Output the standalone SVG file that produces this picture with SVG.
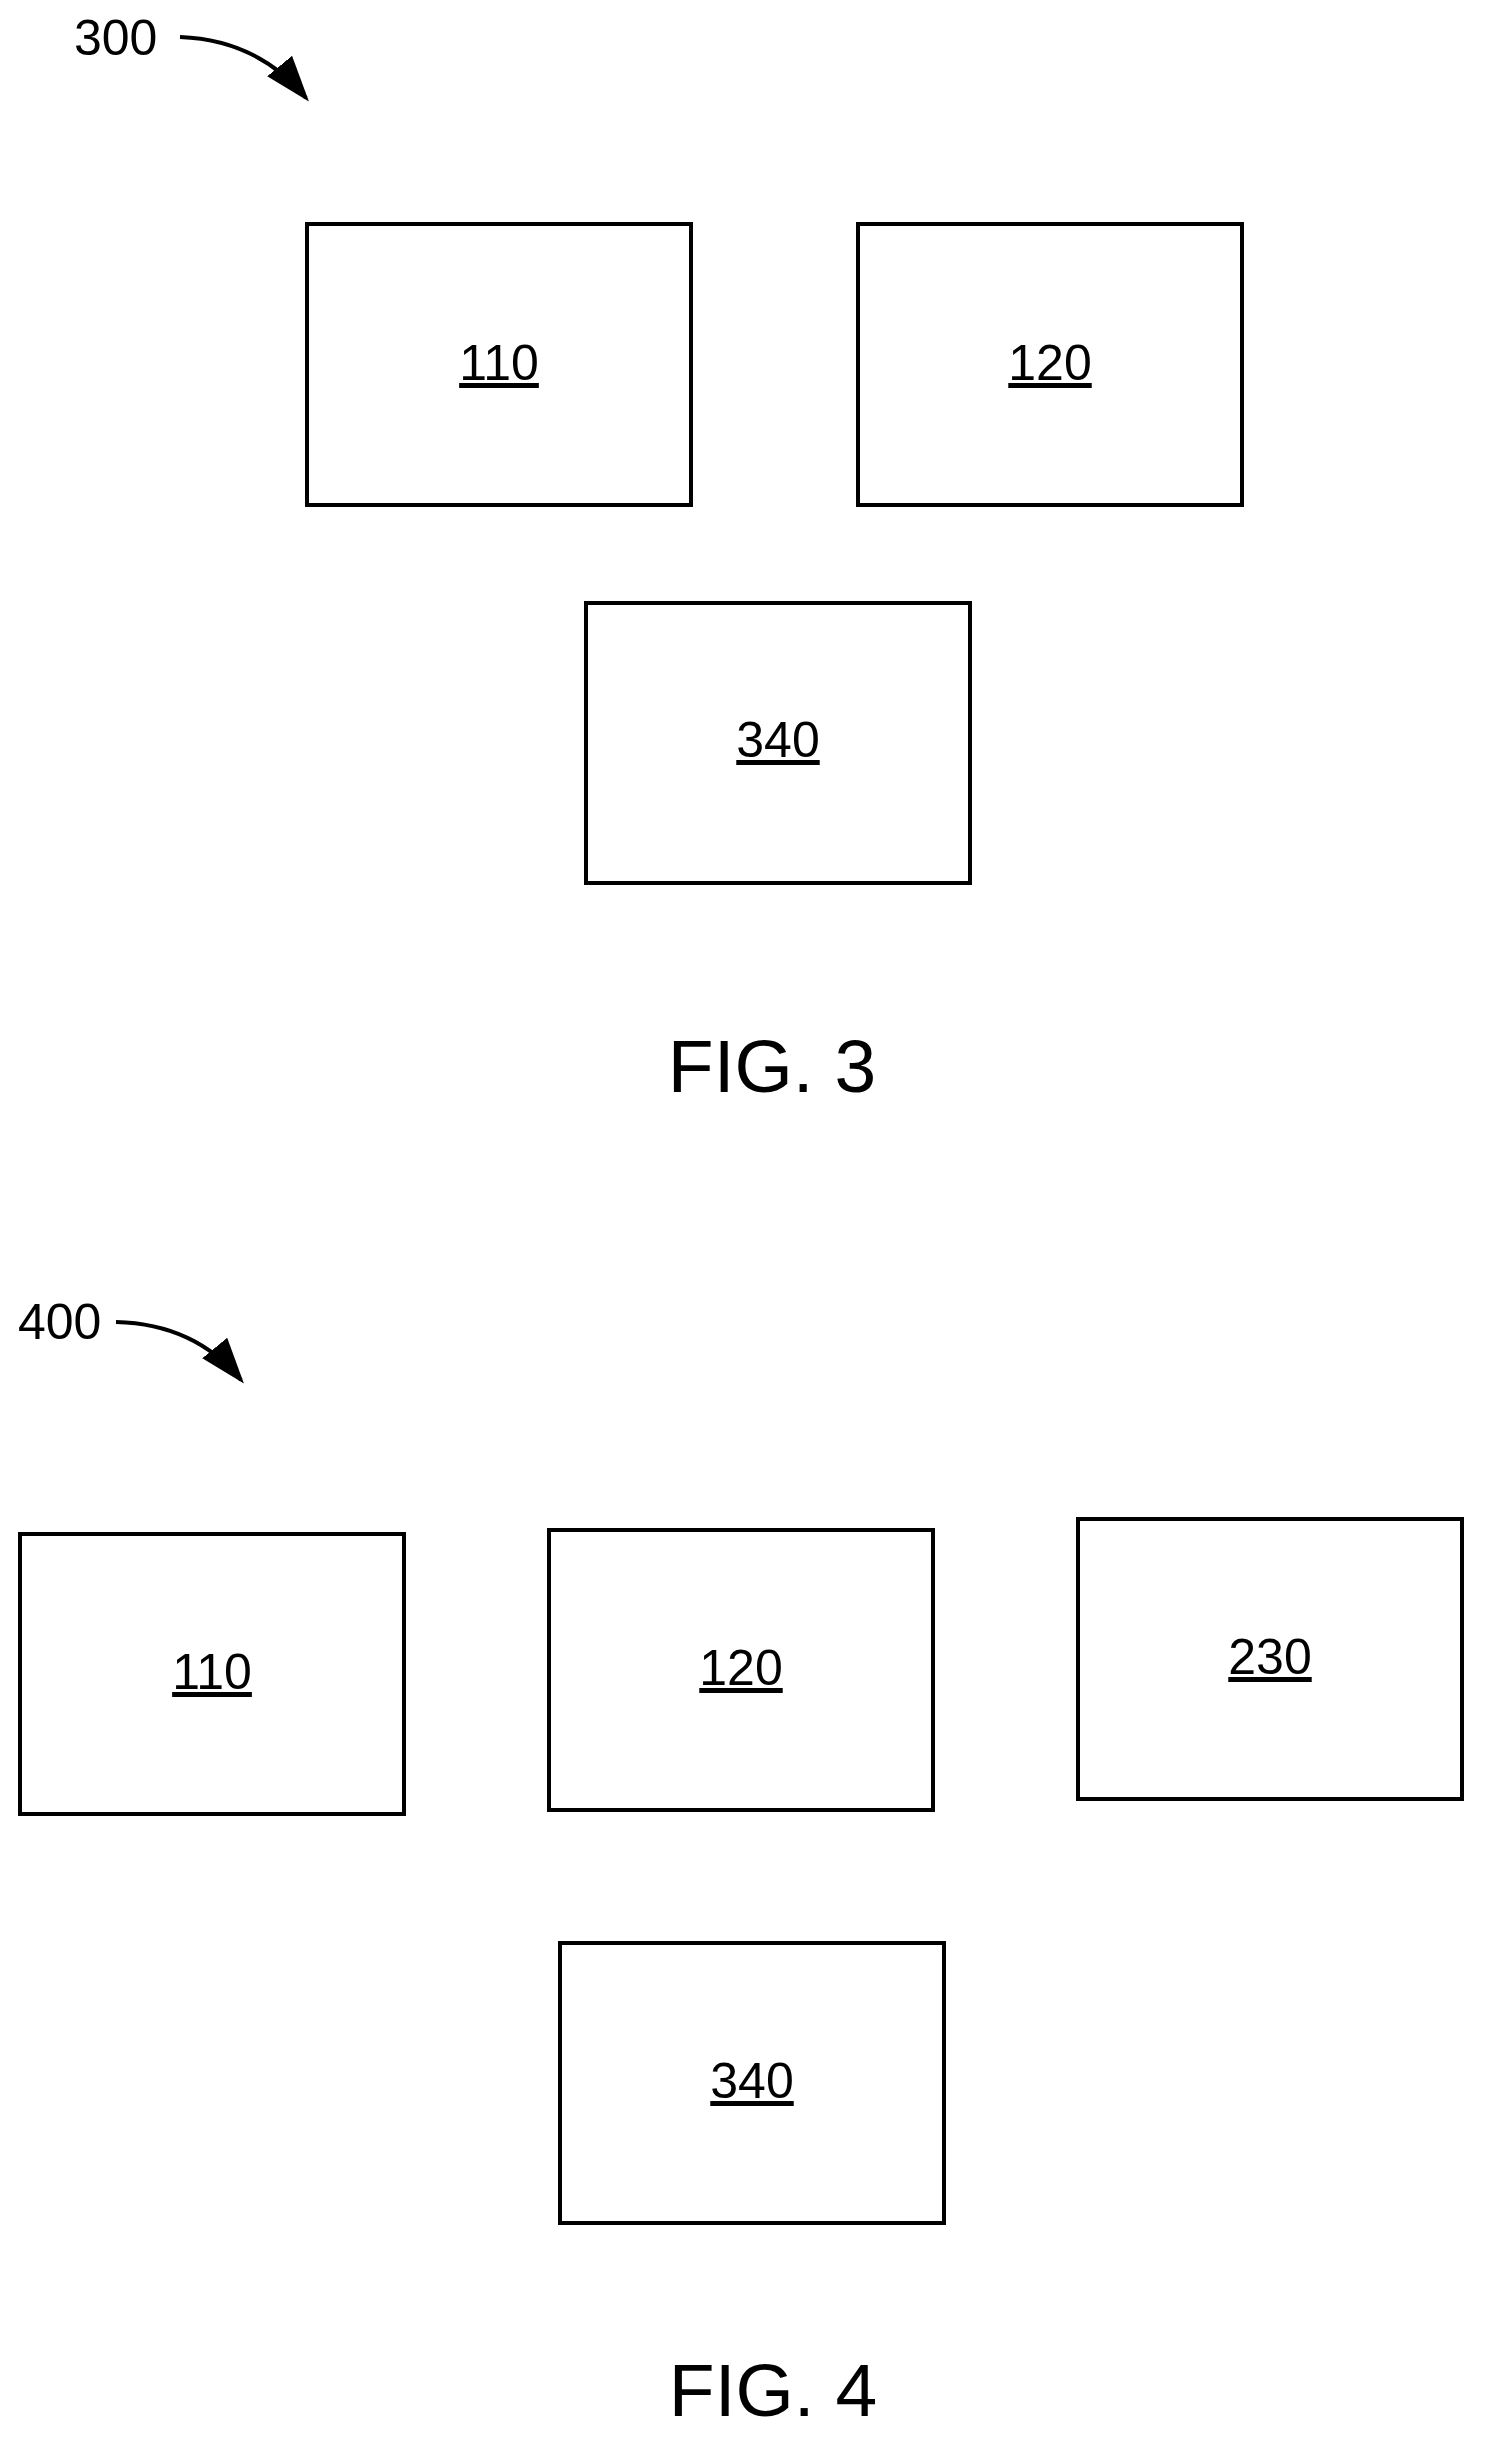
<svg xmlns="http://www.w3.org/2000/svg" width="1486" height="2443" viewBox="0 0 1486 2443">
<style>
.b{fill:#fff;stroke:#000;stroke-width:4}
.t{font-family:"Liberation Sans",Arial,sans-serif;font-size:50px;text-anchor:middle;text-decoration:underline;fill:#000}
.r{font-family:"Liberation Sans",Arial,sans-serif;font-size:50px;fill:#000}
.f{font-family:"Liberation Sans",Arial,sans-serif;font-size:75px;text-anchor:middle;fill:#000}
.c{fill:none;stroke:#000;stroke-width:4}
</style>
<defs>
<marker id="ah" viewBox="0 0 10 10" refX="9" refY="5" markerWidth="46" markerHeight="46" markerUnits="userSpaceOnUse" orient="auto"><path d="M0,1.5 L10,5 L0,8.5 Z" fill="#000"/></marker></defs>
<rect width="1486" height="2443" fill="#fff"/>
<g id="connectors">
<path class="c" d="M180,37 Q258,40 306,98" marker-end="url(#ah)"/>
<path class="c" d="M116,1322 Q195,1324 241,1380" marker-end="url(#ah)"/>
</g>
<text class="r" x="74" y="55">300</text>
<text class="r" x="18" y="1339">400</text>
<g id="n110a"><rect class="b" x="307" y="224" width="384" height="281"/><text class="t" x="499" y="380">110</text></g>
<g id="n120a"><rect class="b" x="858" y="224" width="384" height="281"/><text class="t" x="1050" y="380">120</text></g>
<g id="n340a"><rect class="b" x="586" y="603" width="384" height="280"/><text class="t" x="778" y="757">340</text></g>
<text class="f" x="772" y="1092">FIG. 3</text>
<g id="n110b"><rect class="b" x="20" y="1534" width="384" height="280"/><text class="t" x="212" y="1689">110</text></g>
<g id="n120b"><rect class="b" x="549" y="1530" width="384" height="280"/><text class="t" x="741" y="1685">120</text></g>
<g id="n230b"><rect class="b" x="1078" y="1519" width="384" height="280"/><text class="t" x="1270" y="1674">230</text></g>
<g id="n340b"><rect class="b" x="560" y="1943" width="384" height="280"/><text class="t" x="752" y="2098">340</text></g>
<text class="f" x="773" y="2416">FIG. 4</text>
</svg>
